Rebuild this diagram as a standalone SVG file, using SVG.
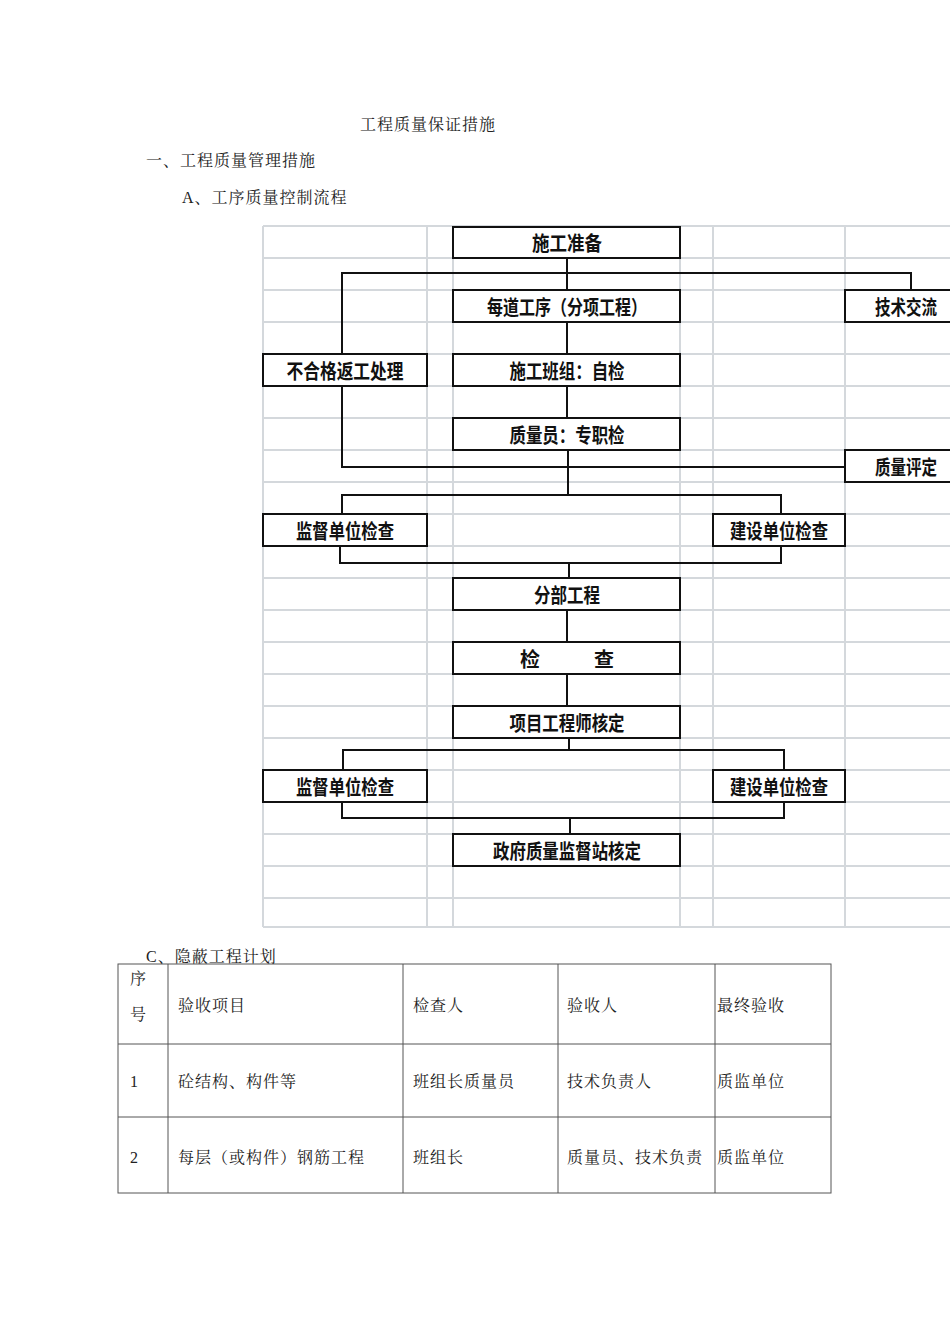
<svg xmlns="http://www.w3.org/2000/svg" width="950" height="1344" viewBox="0 0 950 1344">
<style>
.t{font-family:"Liberation Serif","Noto Serif CJK SC","Noto Sans CJK SC",serif;font-size:16px;fill:#222;letter-spacing:1px}
.g{stroke:#d4d8dc;stroke-width:2;fill:none}
.b{fill:#fff;stroke:#111;stroke-width:2}
.bt{font-family:"Noto Sans CJK SC",sans-serif;font-weight:bold;font-size:20px;fill:#111;text-anchor:middle}
.c{stroke:#111;stroke-width:2;fill:none}
.tb{stroke:#555;stroke-width:1;fill:none}
</style>
<rect width="950" height="1344" fill="#fff"/>
<text class="t" x="360" y="130">工程质量保证措施</text>
<text class="t" x="146" y="166">一、工程质量管理措施</text>
<text class="t" x="182" y="203">A、工序质量控制流程</text>
<g id="grid">
<path class="g" d="M263 226V927M427 226V927M453 226V927M680 226V927M713 226V927M845 226V927M263 927H950M263 226H950"/>
<path class="g" d="M263 258H950M263 290H950M263 322H950M263 354H950M263 386H950M263 418H950M263 450H950M263 482H950M263 514H950M263 546H950M263 578H950M263 610H950M263 642H950M263 674H950M263 706H950M263 738H950M263 770H950M263 802H950M263 834H950M263 866H950M263 898H950"/>
</g>
<g id="connectors">
<path class="c" d="M567 258V290M342 273H911M342 272V354M911 272V290M567 322V354"/>
<path class="c" stroke-width="1.2" d="M567 386V418"/>
<path class="c" d="M568 450V495M342 386V467H845M342 495H781M342 494V514M781 494V514"/>
<path class="c" d="M340 546V563H781V546M569 563V578M567 610V642M567 674V706M569 738V750M343 750H784M343 749V770M784 749V770M342 802V818H784V802M570 818V834"/>
</g>
<g id="n1"><rect class="b" x="453" y="227" width="227" height="31"/><text class="bt" x="567" y="251" textLength="70" lengthAdjust="spacingAndGlyphs">施工准备</text></g>
<g id="n2"><rect class="b" x="453" y="290" width="227" height="32"/><text class="bt" x="567" y="315" textLength="160" lengthAdjust="spacingAndGlyphs">每道工序（分项工程）</text></g>
<g id="n3"><rect class="b" x="845" y="290" width="106" height="32"/><text class="bt" x="906" y="315" textLength="62" lengthAdjust="spacingAndGlyphs">技术交流</text></g>
<g id="n4"><rect class="b" x="263" y="354" width="164" height="32"/><text class="bt" x="345" y="379" textLength="117" lengthAdjust="spacingAndGlyphs">不合格返工处理</text></g>
<g id="n5"><rect class="b" x="453" y="354" width="227" height="32"/><text class="bt" x="567" y="379" textLength="115" lengthAdjust="spacingAndGlyphs">施工班组：自检</text></g>
<g id="n6"><rect class="b" x="453" y="418" width="227" height="32"/><text class="bt" x="567" y="443" textLength="115" lengthAdjust="spacingAndGlyphs">质量员：专职检</text></g>
<g id="n7"><rect class="b" x="845" y="450" width="106" height="32"/><text class="bt" x="906" y="475" textLength="62" lengthAdjust="spacingAndGlyphs">质量评定</text></g>
<g id="n8"><rect class="b" x="263" y="514" width="164" height="32"/><text class="bt" x="345" y="539" textLength="98" lengthAdjust="spacingAndGlyphs">监督单位检查</text></g>
<g id="n9"><rect class="b" x="713" y="514" width="132" height="32"/><text class="bt" x="779" y="539" textLength="98" lengthAdjust="spacingAndGlyphs">建设单位检查</text></g>
<g id="n10"><rect class="b" x="453" y="578" width="227" height="32"/><text class="bt" x="567" y="603" textLength="66" lengthAdjust="spacingAndGlyphs">分部工程</text></g>
<g id="n11"><rect class="b" x="453" y="642" width="227" height="32"/><text class="bt" x="530" y="667">检</text><text class="bt" x="604" y="667">查</text></g>
<g id="n12"><rect class="b" x="453" y="706" width="227" height="32"/><text class="bt" x="567" y="731" textLength="115" lengthAdjust="spacingAndGlyphs">项目工程师核定</text></g>
<g id="n13"><rect class="b" x="263" y="770" width="164" height="32"/><text class="bt" x="345" y="795" textLength="98" lengthAdjust="spacingAndGlyphs">监督单位检查</text></g>
<g id="n14"><rect class="b" x="713" y="770" width="132" height="32"/><text class="bt" x="779" y="795" textLength="98" lengthAdjust="spacingAndGlyphs">建设单位检查</text></g>
<g id="n15"><rect class="b" x="453" y="834" width="227" height="32"/><text class="bt" x="567" y="859" textLength="148" lengthAdjust="spacingAndGlyphs">政府质量监督站核定</text></g>
<text class="t" x="146" y="962">C、隐蔽工程计划</text>
<g id="table">
<rect class="tb" x="118" y="964" width="713" height="229"/>
<path class="tb" d="M118 1044H831M118 1117H831M168 964V1193M403 964V1193M558 964V1193M715 964V1193"/>
<text class="t" x="130" y="984">序</text><text class="t" x="130" y="1020">号</text>
<text class="t" x="178" y="1011">验收项目</text><text class="t" x="413" y="1011">检查人</text><text class="t" x="567" y="1011">验收人</text><text class="t" x="717" y="1011">最终验收</text>
<text class="t" x="130" y="1087">1</text><text class="t" x="178" y="1087">砼结构、构件等</text><text class="t" x="413" y="1087">班组长质量员</text><text class="t" x="567" y="1087">技术负责人</text><text class="t" x="717" y="1087">质监单位</text>
<text class="t" x="130" y="1163">2</text><text class="t" x="178" y="1163">每层（或构件）钢筋工程</text><text class="t" x="413" y="1163">班组长</text><text class="t" x="567" y="1163">质量员、技术负责</text><text class="t" x="717" y="1163">质监单位</text>
</g>
</svg>
